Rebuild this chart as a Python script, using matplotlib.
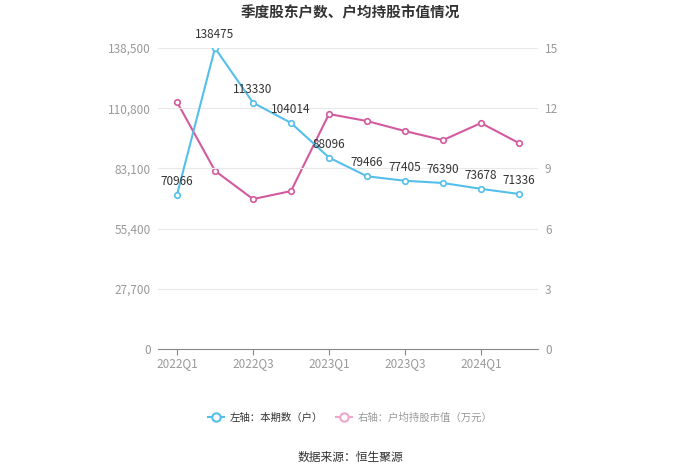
import matplotlib.pyplot as plt
from matplotlib.lines import Line2D

plt.rcParams['font.family'] = ['Noto Sans CJK SC', 'DejaVu Sans']

# Data
quarters = ['2022Q1', '2022Q2', '2022Q3', '2022Q4', '2023Q1', '2023Q2',
            '2023Q3', '2023Q4', '2024Q1', '2024Q2']
holders = [70966, 138475, 113330, 104014, 88096, 79466, 77405, 76390, 73678, 71336]
avg_value = [12.31, 8.88, 7.47, 7.87, 11.71, 11.36, 10.86, 10.41, 11.26, 10.26]
left_ticks = [0, 27700, 55400, 83100, 110800, 138500]
right_ticks = [0, 3, 6, 9, 12, 15]

blue = '#55bfea'
pink = '#d35a9f'

fig = plt.figure(figsize=(7, 4.74), dpi=100)
ax = fig.add_axes([158 / 700, 1 - 349 / 474, 380 / 700, 301 / 474])
ax2 = ax.twinx()

x = list(range(len(quarters)))
ax.plot(x, holders, color=blue, lw=1.5, marker='o', ms=4,
        mfc='white', mec=blue, mew=1.2, zorder=3)
ax2.plot(x, avg_value, color=pink, lw=1.5, marker='o', ms=4,
         mfc='white', mec=pink, mew=1.2, zorder=3)

for i, v in enumerate(holders):
    ax.annotate(str(v), (i, v), xytext=(0, 5), textcoords='offset points',
                ha='center', va='bottom', fontsize=8.5, color='#333333', zorder=5)

ax.set_xlim(-0.5, len(quarters) - 0.5)
ax.set_ylim(0, 138500)
ax2.set_ylim(0, 15)
ax.set_yticks(left_ticks)
ax.set_yticklabels([f'{t:,}' for t in left_ticks])
ax2.set_yticks(right_ticks)
ax.set_xticks(x[::2])
ax.set_xticklabels(quarters[::2])

for a in (ax, ax2):
    for s in a.spines.values():
        s.set_visible(False)
    a.tick_params(axis='y', length=0, labelsize=8.5, labelcolor='#999999', pad=5)
ax.spines['bottom'].set_visible(True)
ax.spines['bottom'].set_color('#888888')
ax.tick_params(axis='x', length=4, color='#888888', labelsize=8.5,
               labelcolor='#999999', pad=2)
ax.grid(axis='y', color='#e8e8e8', lw=0.8)
ax.set_axisbelow(True)
ax2.set_zorder(ax.get_zorder() - 1)
ax.patch.set_visible(False)

fig.text(0.5, 1 - 12 / 474, '季度股东户数、户均持股市值情况', ha='center', va='center',
         fontsize=10.5, fontweight='bold', color='#333333')

handles = [Line2D([0], [0], color=blue, lw=1.5, marker='o', ms=6, mfc='white', mec=blue, mew=1.5),
           Line2D([0], [0], color='#eaa6cb', lw=1.5, marker='o', ms=6, mfc='white', mec='#eaa6cb', mew=1.5)]
leg = fig.legend(handles, ['左轴：本期数（户）', '右轴：户均持股市值（万元）'],
                 loc='center', bbox_to_anchor=(0.5, 1 - 418 / 474), ncol=2,
                 frameon=False, fontsize=7.5, handlelength=1.6, columnspacing=1.2,
                 handletextpad=0.5)
leg.get_texts()[0].set_color('#333333')
leg.get_texts()[1].set_color('#999999')

fig.text(0.5, 1 - 457 / 474, '数据来源：恒生聚源', ha='center', va='center',
         fontsize=8.5, color='#333333')

fig.savefig('out.png', dpi=100)
